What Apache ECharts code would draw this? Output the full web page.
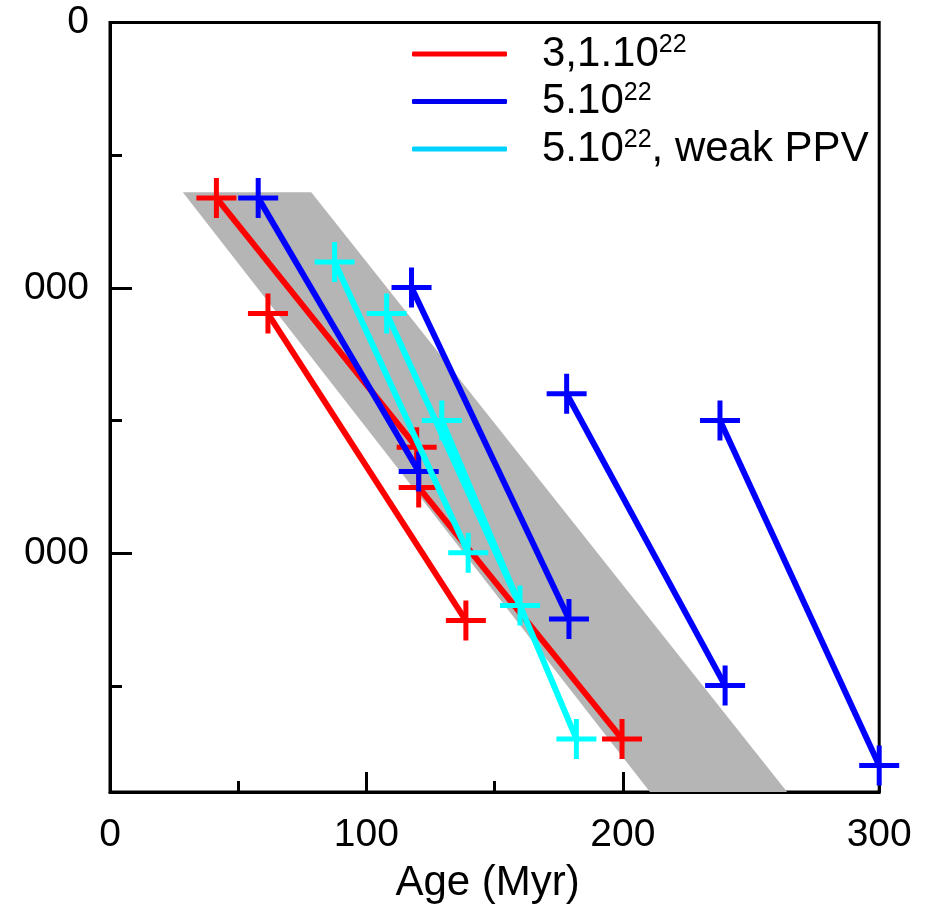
<!DOCTYPE html>
<html><head><meta charset="utf-8">
<script src="https://cdn.jsdelivr.net/npm/echarts@6/dist/echarts.min.js"></script>
<style>html,body{margin:0;padding:0;background:#fff}#c{width:931px;height:909px}</style>
</head><body><div id="c"></div>
<script>
// ---- data ----
const xTickValues = [0, 100, 200, 300];
const yTickLabels = {0: '0', 1000: '000', 2000: '000'};
const bandX = [28.4, 78.5, 264.1, 210.6];
const bandY = [640, 640, 2900, 2900];
const redSegments = [
  [[41.5, 661], [119.6, 1601]],
  [[120.4, 1752], [199.7, 2700]],
  [[61.6, 1097], [138.8, 2254]]
];
const blueSegments = [
  [[57.8, 661], [120.4, 1692]],
  [[117.6, 999], [179.0, 2248]],
  [[178.1, 1399], [239.9, 2499]],
  [[237.9, 1500], [300, 2800]]
];
const cyanSegments = [
  [[87.6, 903], [139.7, 1998]],
  [[107.9, 1097], [159.9, 2197]],
  [[129.4, 1500], [181.9, 2700]]
];
const seriesNames = ['3,1.10²²', '5.10²²', '5.10²², weak PPV'];
const legendRich = {
  '3,1.10²²': '{sp| }{a|3,1.10}{s|22}',
  '5.10²²': '{sp| }{a|5.10}{s|22}',
  '5.10²², weak PPV': '{sp| }{a|5.10}{s|22}{a|, weak PPV}'
};

// ---- chart ----
const FF = '"Liberation Sans", Arial, Helvetica, sans-serif';
const plusPath = 'path://M-2.5,-20L2.5,-20L2.5,-2.5L20,-2.5L20,2.5L2.5,2.5L2.5,20L-2.5,20L-2.5,2.5L-20,2.5L-20,-2.5L-2.5,-2.5Z';

function segSeries(name, color, segs, z) {
  return segs.map(seg => ({
    type: 'line', name: name, data: seg, clip: false, z: z,
    lineStyle: {color: color, width: 6},
    itemStyle: {color: color},
    symbol: plusPath, symbolSize: 40, showSymbol: true,
    emphasis: {disabled: true}, silent: true
  }));
}

const chart = echarts.init(document.getElementById('c'), null, {renderer: 'canvas'});
const option = {
  animation: false,
  backgroundColor: '#fff',
  grid: {left: 110, right: 51.8, top: 22.5, bottom: 116.7, show: true, borderColor: '#000', borderWidth: 3, backgroundColor: 'transparent'},
  legend: {
    left: 412, top: 33, padding: 0, orient: 'vertical', itemWidth: 95, itemHeight: 5, itemGap: 5.5,
    icon: 'roundRect', selectedMode: false,
    data: [
      {name: seriesNames[0], itemStyle: {color: '#ff0000'}},
      {name: seriesNames[1], itemStyle: {color: '#0000f0'}},
      {name: seriesNames[2], itemStyle: {color: '#00d2ff'}}
    ],
    formatter: n => legendRich[n],
    textStyle: {
      color: '#000', fontFamily: FF, fontSize: 42,
      rich: {
        sp: {width: 30, fontSize: 42, lineHeight: 42},
        a: {fontSize: 42, lineHeight: 42, fontFamily: FF, color: '#000'},
        s: {fontSize: 25, lineHeight: 25, verticalAlign: 'top', fontFamily: FF, color: '#000'}
      }
    }
  },
  xAxis: {
    type: 'value', min: 0, max: 300, interval: 100, position: 'bottom',
    axisLine: {onZero: false, lineStyle: {color: '#000', width: 3}},
    axisTick: {inside: true, length: 20, lineStyle: {color: '#000', width: 3}},
    minorTick: {show: true, splitNumber: 2, length: 11, lineStyle: {color: '#000', width: 3}},
    axisLabel: {fontSize: 39, color: '#000', margin: 24, fontFamily: FF,
      formatter: v => xTickValues.indexOf(v) >= 0 ? String(v) : ''},
    splitLine: {show: false}, minorSplitLine: {show: false},
    name: 'Age (Myr)', nameLocation: 'middle', nameGap: 70,
    nameTextStyle: {fontSize: 42, color: '#000', fontFamily: FF, padding: [0, 14, 0, 0]}
  },
  yAxis: [
    {
      type: 'value', min: 0, max: 2900, interval: 1000, inverse: true, position: 'left',
      axisLine: {onZero: false, lineStyle: {color: '#000', width: 3}},
      axisTick: {inside: true, length: 22, lineStyle: {color: '#000', width: 3}},
      axisLabel: {fontSize: 39, color: '#000', margin: 21, fontFamily: FF,
        formatter: v => (v in yTickLabels) ? yTickLabels[v] : ''},
      splitLine: {show: false}
    },
    {
      type: 'value', min: 0, max: 2900, interval: 500, inverse: true, position: 'left',
      axisLine: {show: false, onZero: false},
      axisTick: {inside: true, length: 12, lineStyle: {color: '#000', width: 3}},
      axisLabel: {show: false}, splitLine: {show: false}
    }
  ],
  series: [
    {
      type: 'custom', z: 1, silent: true,
      data: [[bandX[0], bandY[0]]],
      renderItem: (params, api) => ({
        type: 'polygon',
        shape: {points: bandX.map((x, i) => api.coord([x, bandY[i]]))},
        style: {fill: '#b5b5b5'}
      })
    },
    ...segSeries(seriesNames[0], '#ff0000', redSegments, 2),
    ...segSeries(seriesNames[1], '#0000ff', blueSegments, 3),
    ...segSeries(seriesNames[2], '#00ffff', cyanSegments, 4)
  ]
};
chart.setOption(option);
</script>
</body></html>
